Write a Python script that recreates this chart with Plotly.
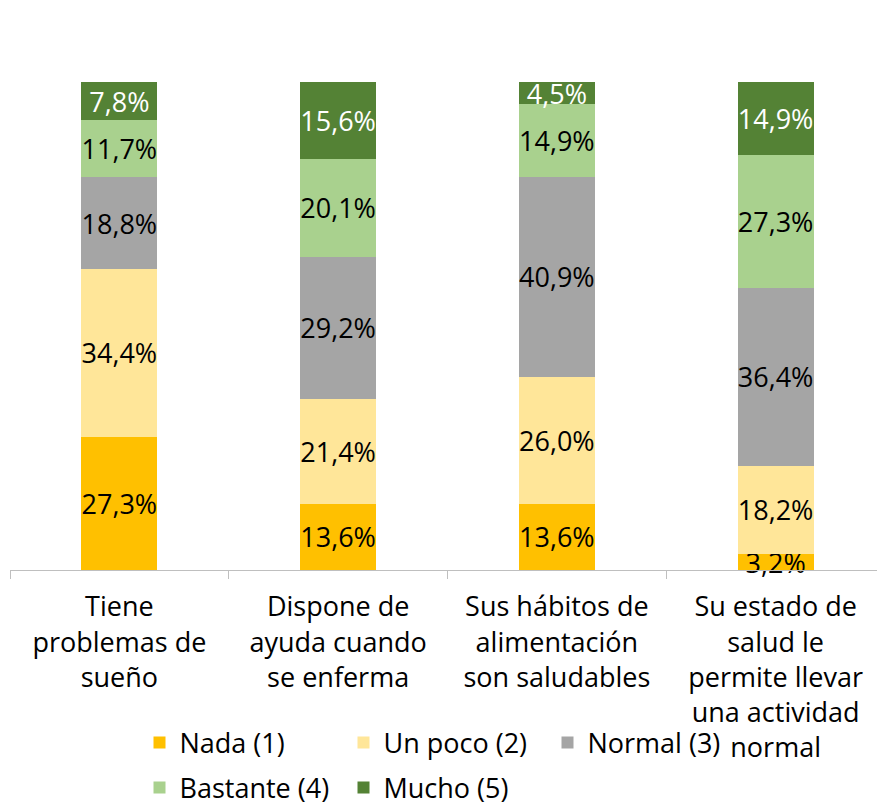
import plotly.graph_objects as go

categories = ["Tiene<br>problemas de<br>sueño",
              "Dispone de<br>ayuda cuando<br>se enferma",
              "Sus hábitos de<br>alimentación<br>son saludables",
              "Su estado de<br>salud le<br>permite llevar<br>una actividad<br>normal"]
series_names = ["Nada (1)", "Un poco (2)", "Normal (3)", "Bastante (4)", "Mucho (5)"]
nada = [27.3, 13.6, 13.6, 3.2]
un_poco = [34.4, 21.4, 26.0, 18.2]
normal = [18.8, 29.2, 40.9, 36.4]
bastante = [11.7, 20.1, 14.9, 27.3]
mucho = [7.8, 15.6, 4.5, 14.9]

values = [nada, un_poco, normal, bastante, mucho]
colors = ["#FFC000", "#FFE699", "#A5A5A5", "#A9D18E", "#548235"]
text_colors = ["black", "black", "black", "black", "white"]
legend_ids = ["legend", "legend", "legend", "legend2", "legend2"]

FONT = "Open Sans, sans-serif"
FS = 27

fig = go.Figure()
for name, vals, col, tc, lg in zip(series_names, values, colors, text_colors, legend_ids):
    fig.add_trace(go.Bar(
        x=categories, y=vals, name=name, legend=lg,
        marker=dict(color=col, line=dict(width=0)),
        text=[f"{v:.1f}%".replace(".", ",") for v in vals],
        textposition="inside", insidetextanchor="middle", textangle=0,
        textfont=dict(color=tc, size=FS, family=FONT),
        cliponaxis=False, constraintext="none",
    ))

leg_common = dict(orientation="h", xanchor="left", yanchor="middle",
                  font=dict(size=FS, family=FONT, color="black"),
                  entrywidth=159, entrywidthmode="pixels",
                  traceorder="normal", itemwidth=30,
                  bgcolor="rgba(0,0,0,0)")

fig.update_layout(
    barmode="stack",
    bargap=0.653,
    width=885, height=806,
    margin=dict(l=2, r=8, t=74, b=244, autoexpand=False),
    paper_bgcolor="white", plot_bgcolor="white",
    font=dict(family=FONT, size=FS, color="black"),
    uniformtext=dict(minsize=FS, mode="show"),
    showlegend=True,
    legend=dict(x=0.148, y=-0.3545, **leg_common),
    legend2=dict(x=0.148, y=-0.4467, **leg_common),
    xaxis=dict(showline=True, linecolor="#BFBFBF", linewidth=1, automargin=False,
               ticks="outside", tickson="boundaries", ticklen=8, tickcolor="#BFBFBF",
               ticklabelstandoff=13,
               tickfont=dict(size=FS, family=FONT, color="black"), showgrid=False),
    yaxis=dict(visible=False, range=[0, 100], showgrid=False),
)

fig.write_html("out.html")
